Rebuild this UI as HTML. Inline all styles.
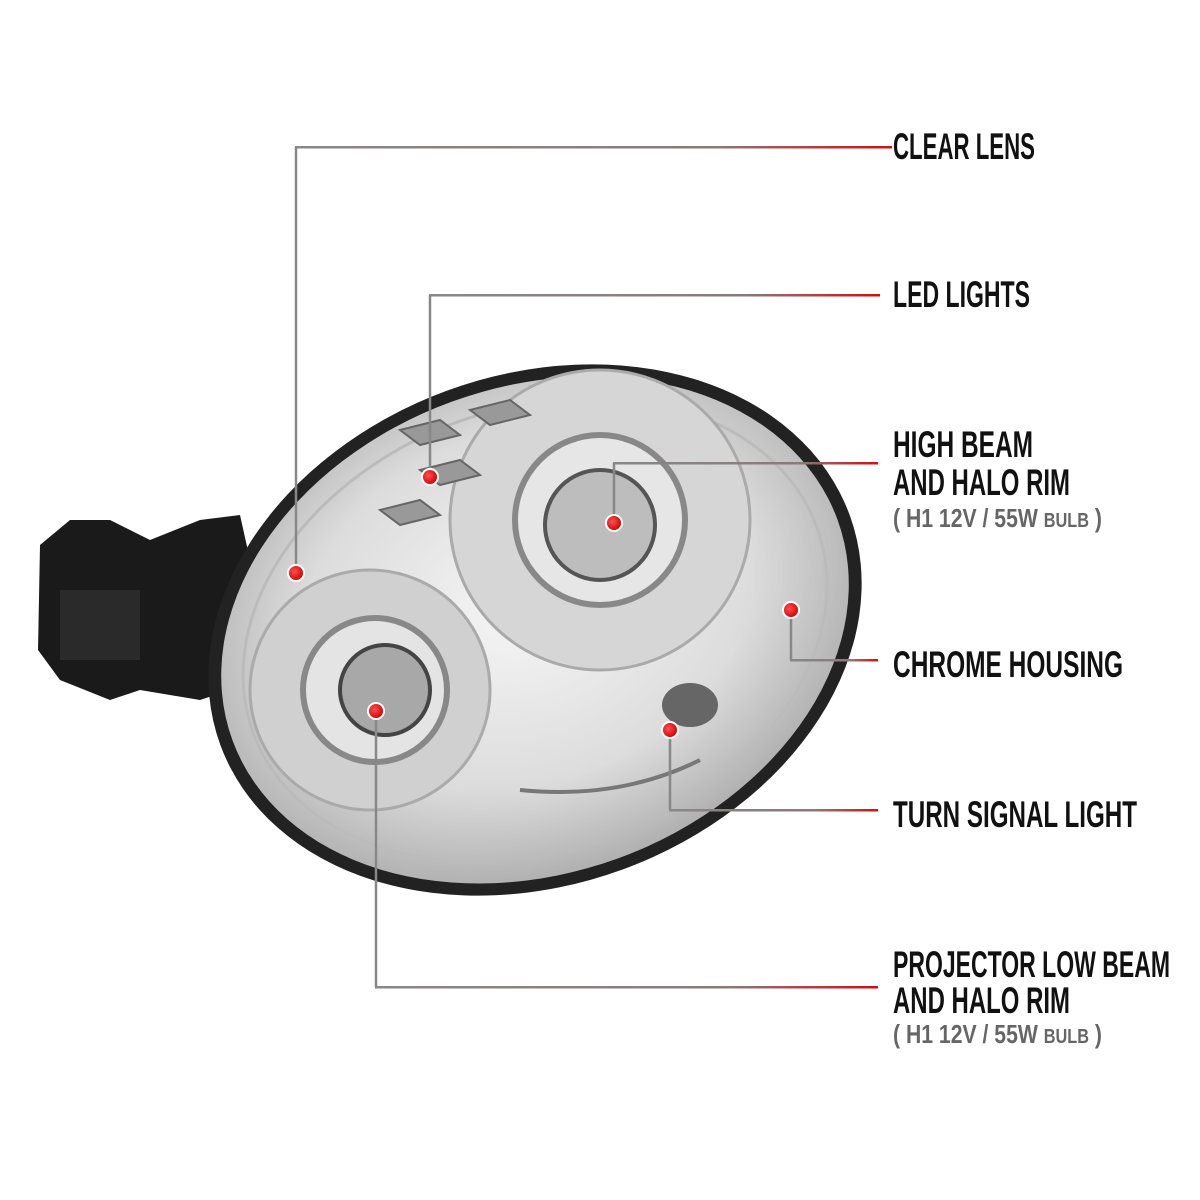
<!DOCTYPE html>
<html><head><meta charset="utf-8"><style>
html,body{margin:0;padding:0;background:#fff;width:1200px;height:1200px;overflow:hidden}
</style></head><body>
<svg width="1200" height="1200" viewBox="0 0 1200 1200" xmlns="http://www.w3.org/2000/svg">
<defs>
<linearGradient id="ln" x1="0" x2="1" y1="0" y2="0">
<stop offset="0" stop-color="#888"/><stop offset="0.7" stop-color="#8a7a7a"/><stop offset="1" stop-color="#d01010"/>
</linearGradient>
<radialGradient id="chrome" cx="0.5" cy="0.45" r="0.6">
<stop offset="0" stop-color="#f6f6f6"/><stop offset="0.6" stop-color="#dcdcdc"/><stop offset="1" stop-color="#a5a5a5"/>
</radialGradient>
<radialGradient id="dot" cx="0.4" cy="0.4" r="0.6">
<stop offset="0" stop-color="#ff5050"/><stop offset="1" stop-color="#d00000"/>
</radialGradient>
</defs>
<!-- bracket -->
<path d="M40,545 L70,520 L110,520 L150,540 L200,520 L240,515 L250,560 L230,690 L200,700 L140,690 L110,700 L60,680 L38,650 Z" fill="#1a1a1a"/>
<rect x="60" y="590" width="80" height="70" fill="#2a2a2a"/>
<!-- headlight body -->
<g transform="rotate(-20 535 630)">
<ellipse cx="535" cy="630" rx="335" ry="255" fill="#222"/>
<ellipse cx="535" cy="630" rx="322" ry="243" fill="url(#chrome)"/>
<ellipse cx="535" cy="630" rx="300" ry="222" fill="none" stroke="#bbb" stroke-width="3"/>
</g>
<!-- high beam projector -->
<circle cx="600" cy="520" r="150" fill="#d6d6d6" stroke="#aaa" stroke-width="3"/>
<circle cx="600" cy="520" r="85" fill="#e6e6e6" stroke="#888" stroke-width="6"/>
<circle cx="600" cy="525" r="55" fill="#bdbdbd" stroke="#555" stroke-width="4"/>
<!-- low beam projector -->
<circle cx="370" cy="690" r="120" fill="#d0d0d0" stroke="#aaa" stroke-width="3"/>
<circle cx="375" cy="690" r="72" fill="#e4e4e4" stroke="#888" stroke-width="6"/>
<circle cx="385" cy="690" r="45" fill="#a8a8a8" stroke="#444" stroke-width="4"/>
<!-- turn signal -->
<ellipse cx="690" cy="705" rx="28" ry="22" fill="#666"/>
<path d="M520,790 Q620,800 700,760" stroke="#777" stroke-width="4" fill="none"/>
<!-- leds -->
<path d="M400,430 l40,-10 l20,15 l-40,10z M420,470 l40,-10 l20,15 l-40,10z M380,510 l40,-10 l20,15 l-40,10z M470,410 l40,-10 l20,15 l-40,10z" fill="#999" stroke="#666" stroke-width="2"/>

<!-- callout lines -->
<g fill="none" stroke-width="2.5" stroke="#888">
<path d="M296,573 V147"/>
<path d="M430,477 V295"/>
<path d="M614,523 V463"/>
<path d="M791,610 V660"/>
<path d="M670,730 V810"/>
<path d="M376,711 V987"/>
</g>
<g fill="url(#ln)">
<rect x="295" y="146" width="597" height="2.5"/>
<rect x="429" y="294" width="451" height="2.5"/>
<rect x="613" y="462" width="265" height="2.5"/>
<rect x="790" y="659" width="88" height="2.5"/>
<rect x="669" y="809" width="209" height="2.5"/>
<rect x="375" y="986" width="503" height="2.5"/>
</g>
<g fill="url(#dot)" stroke="#fff" stroke-width="2">
<circle cx="296" cy="573" r="8"/><circle cx="430" cy="477" r="8"/><circle cx="614" cy="523" r="8"/>
<circle cx="791" cy="610" r="8"/><circle cx="670" cy="730" r="8"/><circle cx="376" cy="711" r="8"/>
</g>
<!-- labels -->
<g font-family="Liberation Sans, sans-serif" font-size="37" font-weight="bold" fill="#111">
<text x="893" y="159" textLength="142" lengthAdjust="spacingAndGlyphs">CLEAR LENS</text>
<text x="893" y="307" textLength="137" lengthAdjust="spacingAndGlyphs">LED LIGHTS</text>
<text x="893" y="457" textLength="140" lengthAdjust="spacingAndGlyphs">HIGH BEAM</text>
<text x="893" y="495" textLength="177" lengthAdjust="spacingAndGlyphs">AND HALO RIM</text>
<text x="893" y="677" textLength="230" lengthAdjust="spacingAndGlyphs">CHROME HOUSING</text>
<text x="893" y="827" textLength="244" lengthAdjust="spacingAndGlyphs">TURN SIGNAL LIGHT</text>
<text x="893" y="977" textLength="277" lengthAdjust="spacingAndGlyphs">PROJECTOR LOW BEAM</text>
<text x="893" y="1013" textLength="177" lengthAdjust="spacingAndGlyphs">AND HALO RIM</text>
</g>
<g font-family="Liberation Sans, sans-serif" fill="#666" font-weight="bold">
<text x="893" y="527" font-size="26" textLength="209" lengthAdjust="spacingAndGlyphs">( H1  12V / 55W <tspan font-size="20">BULB</tspan> )</text>
<text x="893" y="1043" font-size="26" textLength="209" lengthAdjust="spacingAndGlyphs">( H1  12V / 55W <tspan font-size="20">BULB</tspan> )</text>
</g>
</svg>
</body></html>
